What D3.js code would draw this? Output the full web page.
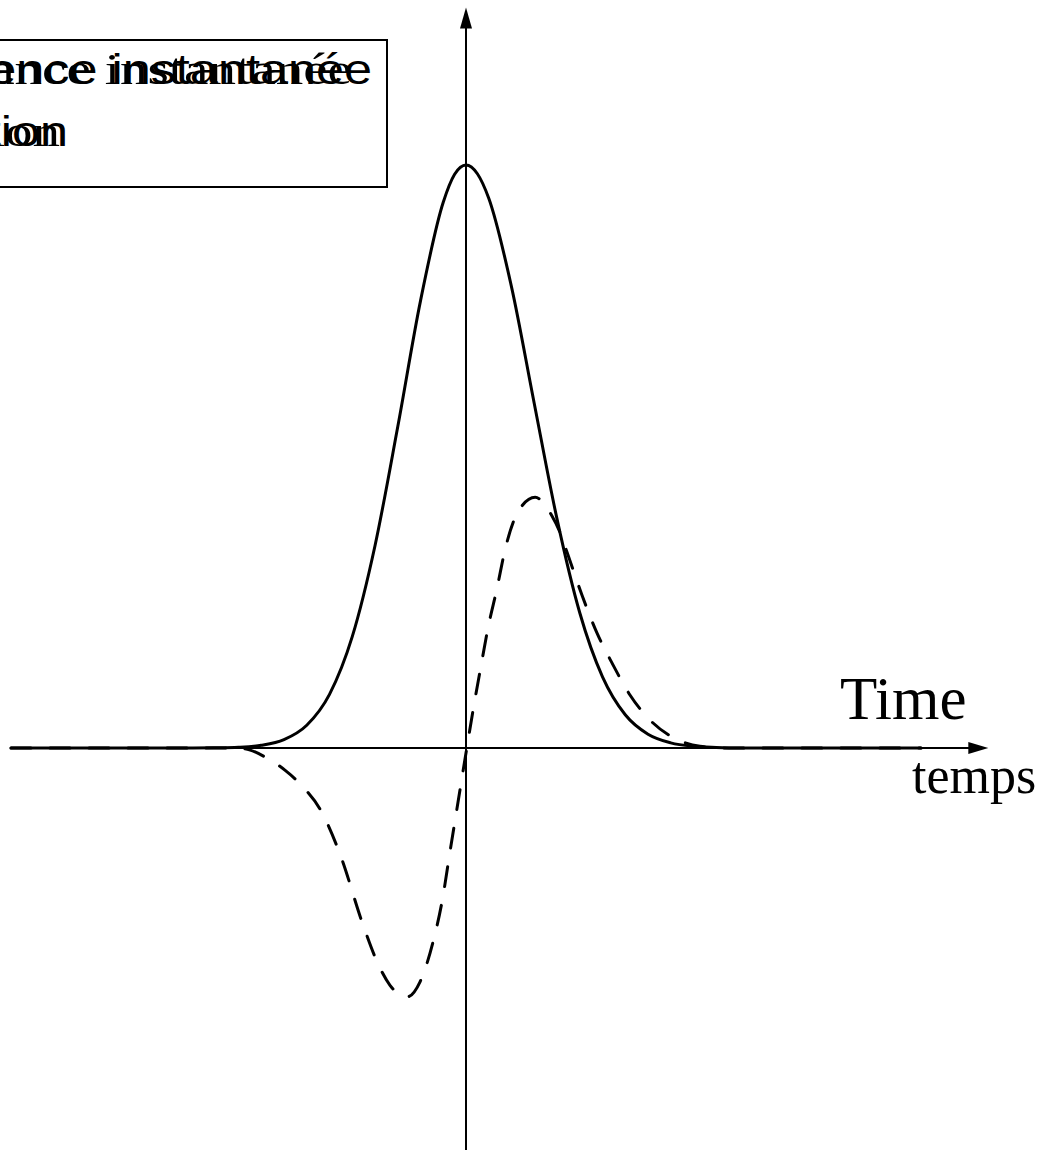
<!DOCTYPE html>
<html>
<head>
<meta charset="utf-8">
<script src="https://cdn.jsdelivr.net/npm/d3@7"></script>
<style>
  body { margin: 0; background: #fff; }
  svg { display: block; }
</style>
</head>
<body>
<svg id="canvas" width="1046" height="1150"></svg>
<script>
// solid curve (instantaneous power)
const solidT = [-5, -3, -2.75, -2.5, -2.25, -2, -1.75, -1.5, -1.25, -1, -0.75, -0.5, -0.25, -0.125, 0,
  0.125, 0.25, 0.5, 0.75, 1, 1.25, 1.5, 1.75, 2, 2.25, 2.5, 2.75, 3, 5];
const solidV = [0, 0, 0.0003, 0.0013, 0.0047, 0.0144, 0.039, 0.092, 0.191, 0.347, 0.551, 0.767, 0.936, 0.984, 1,
  0.985, 0.943, 0.791, 0.591, 0.393, 0.232, 0.122, 0.057, 0.0237, 0.0088, 0.0029, 0.0009, 0, 0];

// dashed curve
const dashT = [-5, -2.7, -2.45, -2.19, -1.99, -1.79, -1.6, -1.38, -1.13, -0.97, -0.835, -0.65, -0.505, -0.363,
  -0.264, -0.176, -0.088, 0.011, 0.088, 0.165, 0.242, 0.341, 0.429, 0.571, 0.76, 0.945, 1.033, 1.121,
  1.275, 1.44, 1.604, 1.802, 2.022, 2.264, 2.571, 2.846, 5];
const dashV = [0, 0, -0.001, -0.017, -0.038, -0.067, -0.106, -0.184, -0.304, -0.369, -0.407, -0.427, -0.401, -0.333,
  -0.264, -0.178, -0.093, 0.002, 0.074, 0.141, 0.206, 0.274, 0.34, 0.405, 0.43, 0.398, 0.37, 0.331,
  0.262, 0.197, 0.146, 0.091, 0.048, 0.019, 0.003, 0, 0];

const legendSans = ['Fréquence instantanée', 'Modulation'];
const legendSerif = ['Puissance instantanée', 'Modulation'];
const axisLabels = ['Time', 'temps'];

const svg = d3.select('#canvas');

const x = d3.scaleLinear().domain([-5, 5]).range([11, 921]);
const y = d3.scaleLinear().domain([0, 1]).range([748, 165]);

const line = d3.line()
  .x(d => x(d[0]))
  .y(d => y(d[1]))
  .curve(d3.curveMonotoneX);

// axes
const xMin = -4.83, xMax = 5.74;
const yMin = -0.7, yMax = 1.27;

svg.append('line')
  .attr('x1', x(xMin)).attr('x2', x(xMax) - 14)
  .attr('y1', y(0)).attr('y2', y(0))
  .attr('stroke', '#000').attr('stroke-width', 2);
svg.append('path')
  .attr('d', 'M' + x(xMax) + ',' + y(0) +
    'L' + (x(xMax) - 20) + ',' + (y(0) - 6) +
    'L' + (x(xMax) - 20) + ',' + (y(0) + 6) + 'Z')
  .attr('fill', '#000');

svg.append('line')
  .attr('x1', x(0)).attr('x2', x(0))
  .attr('y1', y(yMin)).attr('y2', y(yMax) + 14)
  .attr('stroke', '#000').attr('stroke-width', 2);
svg.append('path')
  .attr('d', 'M' + x(0) + ',' + y(yMax) +
    'L' + (x(0) - 6) + ',' + (y(yMax) + 21) +
    'L' + (x(0) + 6) + ',' + (y(yMax) + 21) + 'Z')
  .attr('fill', '#000');

// curves
svg.append('path')
  .datum(d3.zip(solidT, solidV))
  .attr('d', line)
  .attr('fill', 'none')
  .attr('stroke', '#000')
  .attr('stroke-width', 3)
  .attr('stroke-linecap', 'round');

svg.append('path')
  .datum(d3.zip(dashT, dashV))
  .attr('d', line)
  .attr('fill', 'none')
  .attr('stroke', '#000')
  .attr('stroke-width', 3)
  .attr('stroke-linecap', 'round')
  .attr('stroke-dasharray', '20,19');

// axis labels
svg.append('text')
  .attr('x', 840).attr('y', 719)
  .attr('font-family', '"Liberation Serif", "Times New Roman", serif')
  .attr('font-size', 61)
  .text(axisLabels[0]);
svg.append('text')
  .attr('x', 912).attr('y', 793)
  .attr('font-family', '"Liberation Serif", "Times New Roman", serif')
  .attr('font-size', 52)
  .text(axisLabels[1]);

// legend box, partly off the page on the left
svg.append('rect')
  .attr('x', -4).attr('y', 40)
  .attr('width', 391).attr('height', 147)
  .attr('fill', '#fff')
  .attr('stroke', '#000')
  .attr('stroke-width', 2);

const lineY = [84, 146];
const sansEnd = [372, 68];
const serifEnd = [352, 60];

legendSans.forEach((s, i) => {
  svg.append('text')
    .attr('transform', 'translate(' + sansEnd[i] + ',' + lineY[i] + ') scale(1.2,1)')
    .attr('text-anchor', 'end')
    .attr('font-family', '"Liberation Sans", Arial, sans-serif')
    .attr('font-size', 42)
    .text(s);
});
legendSerif.forEach((s, i) => {
  svg.append('text')
    .attr('transform', 'translate(' + serifEnd[i] + ',' + lineY[i] + ') scale(1.25,1)')
    .attr('text-anchor', 'end')
    .attr('font-family', '"Liberation Serif", "Times New Roman", serif')
    .attr('font-size', 44)
    .text(s);
});
</script>
</body>
</html>
